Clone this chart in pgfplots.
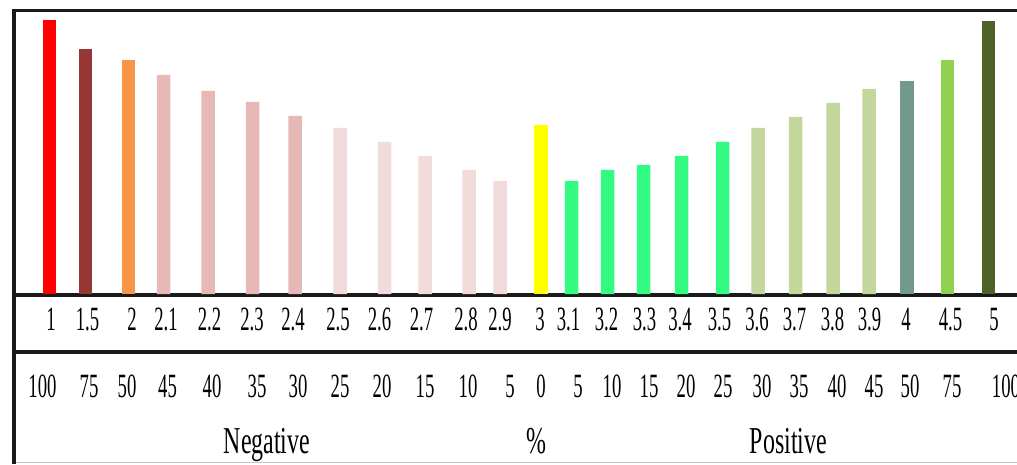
\documentclass[border=0pt]{standalone}
\usepackage{pgfplots}
\pgfplotsset{compat=1.18}
\usepackage{fontspec}
\setmainfont{Liberation Serif}
\newfontfamily\narrowA[FakeStretch=0.55]{Liberation Serif}
\newfontfamily\narrowB[FakeStretch=0.63]{Liberation Serif}
\definecolor{cRed}{HTML}{FF0000}
\definecolor{cBrown}{HTML}{953735}
\definecolor{cOrange}{HTML}{F79646}
\definecolor{cPink}{HTML}{E6B9B8}
\definecolor{cLPink}{HTML}{F2DCDB}
\definecolor{cYellow}{HTML}{FFFF00}
\definecolor{cGreen}{HTML}{33FA80}
\definecolor{cSage}{HTML}{C3D69B}
\definecolor{cTeal}{HTML}{72998A}
\definecolor{cLGreen}{HTML}{92D050}
\definecolor{cOlive}{HTML}{4F6228}
\definecolor{lineC}{HTML}{1A1A1A}
\begin{document}
\begin{tikzpicture}
\begin{axis}[
  width=1017pt, height=464pt, scale only axis,
  xmin=0, xmax=1017, ymin=-170, ymax=294,
  axis line style={draw=none},
  xtick=\empty, ytick=\empty,
  clip=false,
  ybar, bar width=13.5pt, bar shift=0pt,
  every axis plot/.append style={draw=none},
]
% frame lines
\draw[lineC, line width=3.5pt] (axis cs:12.5,283.5) -- (axis cs:1017,283.5);
\draw[lineC, line width=4pt] (axis cs:14,-0.5) -- (axis cs:1017,-0.5);
\draw[lineC, line width=4pt] (axis cs:14,-58) -- (axis cs:1017,-58);
\draw[gray!45, line width=1pt] (axis cs:14,-168.8) -- (axis cs:1017,-168.8);
\draw[lineC, line width=3.5pt] (axis cs:14,285) -- (axis cs:14,-170);

\addplot[fill=cRed] coordinates {(49.5,274)};
\addplot[fill=cBrown] coordinates {(85.5,245)};
\addplot[fill=cOrange] coordinates {(128.5,234)};
\addplot[fill=cPink] coordinates {(163.5,219) (208,203) (252.5,192) (295,178)};
\addplot[fill=cLPink] coordinates {(340,166) (384.5,152) (425,138) (469,124) (500,113)};
\addplot[fill=cYellow] coordinates {(541,169)};
\addplot[fill=cGreen] coordinates {(571.5,113) (607.5,124) (643.5,129) (681.5,138) (722.5,152)};
\addplot[fill=cSage] coordinates {(758,166) (795.5,177) (833,191) (869,205)};
\addplot[fill=cTeal] coordinates {(907,213)};
\addplot[fill=cLGreen] coordinates {(947.5,234)};
\addplot[fill=cOlive] coordinates {(988.5,273)};

% first row labels
\begin{scope}[every node/.style={anchor=base, inner sep=0pt, font=\narrowA\fontsize{34}{40}\selectfont}]
\node at (axis cs:51,-36) {1};
\node at (axis cs:87.5,-36) {1.5};
\node at (axis cs:132,-36) {2};
\node at (axis cs:166,-36) {2.1};
\node at (axis cs:209.5,-36) {2.2};
\node at (axis cs:252,-36) {2.3};
\node at (axis cs:293,-36) {2.4};
\node at (axis cs:338,-36) {2.5};
\node at (axis cs:379.5,-36) {2.6};
\node at (axis cs:421.5,-36) {2.7};
\node at (axis cs:466,-36) {2.8};
\node at (axis cs:500,-36) {2.9};
\node at (axis cs:540,-36) {3};
\node at (axis cs:568.5,-36) {3.1};
\node at (axis cs:606.5,-36) {3.2};
\node at (axis cs:644.5,-36) {3.3};
\node at (axis cs:680,-36) {3.4};
\node at (axis cs:719.5,-36) {3.5};
\node at (axis cs:757,-36) {3.6};
\node at (axis cs:794.5,-36) {3.7};
\node at (axis cs:832.5,-36) {3.8};
\node at (axis cs:869.5,-36) {3.9};
\node at (axis cs:906,-36) {4};
\node at (axis cs:950.5,-36) {4.5};
\node at (axis cs:994,-36) {5};
% second row labels
\node at (axis cs:42.5,-103) {100};
\node at (axis cs:89,-103) {75};
\node at (axis cs:127,-103) {50};
\node at (axis cs:167.5,-103) {45};
\node at (axis cs:212,-103) {40};
\node at (axis cs:257,-103) {35};
\node at (axis cs:298,-103) {30};
\node at (axis cs:340,-103) {25};
\node at (axis cs:382,-103) {20};
\node at (axis cs:425,-103) {15};
\node at (axis cs:468,-103) {10};
\node at (axis cs:510,-103) {5};
\node at (axis cs:541,-103) {0};
\node at (axis cs:578,-103) {5};
\node at (axis cs:612,-103) {10};
\node at (axis cs:649,-103) {15};
\node at (axis cs:686,-103) {20};
\node at (axis cs:723,-103) {25};
\node at (axis cs:762,-103) {30};
\node at (axis cs:799,-103) {35};
\node at (axis cs:837,-103) {40};
\node at (axis cs:874,-103) {45};
\node at (axis cs:910,-103) {50};
\node at (axis cs:952,-103) {75};
\node at (axis cs:1006,-103) {100};
\end{scope}
\begin{scope}[every node/.style={anchor=base, inner sep=0pt, font=\narrowB\fontsize{38}{44}\selectfont}]
\node at (axis cs:267,-159) {Negative};
\node at (axis cs:536,-159) {\%};
\node at (axis cs:788.5,-159) {Positive};
\end{scope}
\coordinate (ll) at (axis cs:0,-170);
\coordinate (ur) at (axis cs:1017,294);
\end{axis}
\pgfresetboundingbox
\path[use as bounding box] (ll) rectangle (ur);
\end{tikzpicture}
\end{document}
